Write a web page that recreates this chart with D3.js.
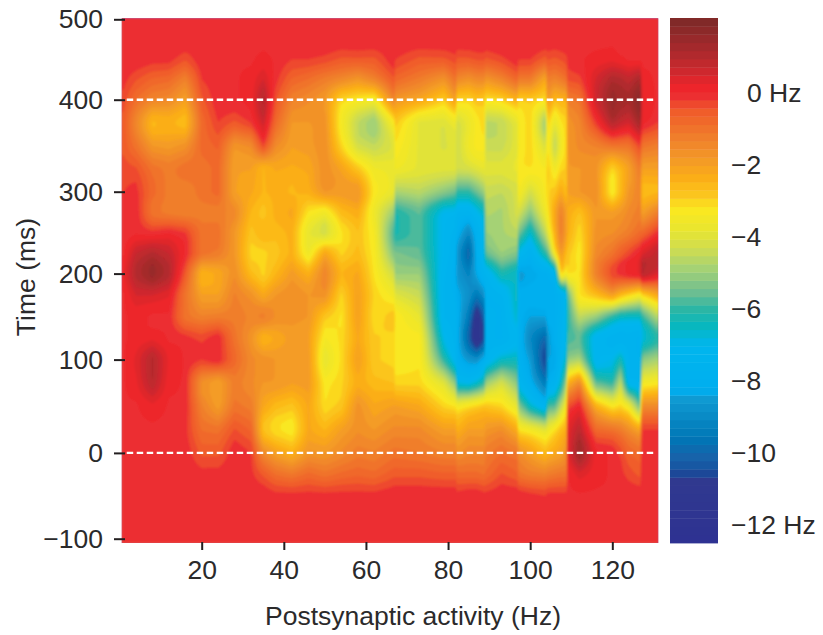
<!DOCTYPE html>
<html><head><meta charset="utf-8">
<script src="https://cdn.jsdelivr.net/npm/d3@7"></script>
<style>
html,body{margin:0;padding:0;background:#fff}
svg{display:block}
text{font-family:"Liberation Sans",Arial,sans-serif;fill:#2b2a2b}
</style></head><body>
<svg id="c" width="823" height="635"></svg>
<script>
const xTicks=[20,40,60,80,100,120];
const yTicks=[-100,0,100,200,300,400,500];
const dashedTimes=[0,400];
const legendLabels=[[0,"0 Hz"],[-2,"−2"],[-4,"−4"],[-6,"−6"],[-8,"−8"],[-10,"−10"],[-12,"−12 Hz"]];
const colorValues=[2.08,1.2,0.45,0.2,-0.1,-0.47,-1.3,-1.86,-2.4,-2.9,-3.2,-3.8,-4.36,-4.9,-5.5,-6,-6.45,-7,-8.25,-8.5,-9.6,-10.2,-10.5,-10.7,-12.5];
const colorStops=["#7b2927","#a8292d","#d8282e","#ed2229","#ec3031","#f05a2a","#f0822b","#f39a26","#fcb016","#fbc91f","#fbe81f","#e9e62f","#cddc52","#a3d176","#72bf90","#2cb6a5","#08b7be","#00b6ee","#00aeef","#0f9ad2","#0076b6","#1b5fa8","#134f9c","#30398f","#2e3192"];
// firing-rate change (Hz), one list per postsynaptic-rate column, from t=-50 to t=475 ms
const timeRows=[-50,-25,0,25,50,75,100,125,150,175,200,225,250,275,300,325,350,375,400,425,450,475];
const rateColumns=[1,4,8,12,16,20,24,28,32,35,38,42,46,50,54,58,62,66.8,67.2,73,79,81.8,82.2,85,87,88.8,89.2,93,96.8,97.2,100,103.8,104.2,106,107.5,108.8,109.2,112,116,120,122,124,126.8,127.2,131];
const heatValues=[
[0,0,0,0,0,0,0,0,0,0,0.2,0,-0.1,-0.1,-0.2,-0.3,-0.5,-0.5,-0.3,-0.1,0,0],
[0,0,0,0,0,0.2,0.3,0.1,0.1,0.5,1.0,0.7,0,0,-0.1,-0.4,-1,-1.4,-0.9,-0.4,0,0],
[0,0,0,0,0.2,0.9,1.0,0.2,0,0.5,1.5,1.0,-0.1,-1.0,-0.8,-1.0,-1.8,-2.5,-1.4,-0.7,-0.1,0],
[0,0,0,0,0,0.1,0.2,0,0,0.3,1.0,0.7,0,-1.2,-1.2,-1.2,-1.9,-2.4,-1.5,-0.8,-0.1,0],
[0,0,0,-0.1,0,0,0,-0.1,-1.0,-1.0,-0.5,0,-0.2,-1.3,-1.3,-1.0,-1.7,-2.6,-2.0,-1.3,-0.4,0],
[0,-0.1,-0.5,-0.9,-1.3,-1.6,-0.2,-0.3,-1.3,-2,-2.4,-1,-1,-1.2,-1,-1,-0.8,-0.8,-0.5,-0.2,0,0],
[0,-0.1,-0.5,-1,-1.9,-2,0,0,-1.2,-2,-2.2,-1.2,-1,-1.2,-0.8,-0.8,-0.6,-0.2,0,0,0,0],
[0,0,0,-0.4,-1,-1.2,-0.8,-1,-1.2,-1.3,-1.6,-1.8,-1.8,-1.5,-2,-2,-1.7,-0.5,0,0,0,0],
[0,-0.1,-0.2,-0.7,-1.2,-1.5,-1.5,-1.7,-1.4,-1.7,-2.6,-3,-2.8,-2.5,-2.2,-2,-1.5,-0.2,0.1,0.1,0,0],
[0,-0.5,-1.5,-2.7,-2.2,-1.8,-1.7,-2.4,-1.3,-2.2,-3,-3,-2.5,-2.8,-2.5,-2.5,-0.3,0.6,1.0,0.5,0.1,0],
[-0.1,-0.9,-2,-3.1,-2.6,-1.8,-1.8,-2.2,-1.6,-1.8,-2.5,-2.8,-2.6,-2.4,-2.4,-2.2,-1.5,-0.8,-0.4,-0.1,0,0],
[-0.1,-1.1,-2.4,-3.3,-2.8,-2,-1.8,-1.9,-1.7,-1.6,-1.9,-2.4,-2.4,-2.2,-2.5,-2.3,-2,-1.8,-1.3,-0.7,-0.2,0],
[-0.1,-0.8,-1.7,-2.2,-2.2,-1.9,-1.9,-2,-1.8,-1.8,-2.4,-3.6,-3.8,-3.2,-2.4,-2.2,-1.9,-1.8,-1.5,-0.9,-0.2,0],
[-0.1,-1,-1.8,-2.5,-3.1,-3.3,-3.8,-3.4,-2.8,-1.7,-1.4,-2.2,-4.2,-3.5,-1.8,-1.6,-1.6,-1.7,-1.8,-1.2,-0.3,0],
[-0.1,-0.8,-1.5,-2,-2.8,-3,-3.1,-3.1,-3.2,-3,-2.5,-3,-3.2,-2.6,-1.9,-2.1,-3,-3.4,-3,-1.5,-0.5,0],
[-0.1,-0.7,-1.2,-1.6,-1.7,-2.3,-2,-2.2,-2,-2,-2.2,-2.6,-2.7,-2.3,-1.8,-2.8,-4.2,-4.5,-3.3,-1.8,-0.5,0],
[-0.1,-0.8,-1.3,-1.8,-2.2,-2.6,-2.9,-2.9,-3.1,-3,-3.2,-3.3,-3.4,-3.6,-3.3,-3.6,-4.5,-5,-3.5,-1.4,-0.5,0],
[0,-0.5,-1,-1.5,-2,-2.7,-3,-3,-2.8,-3.5,-4.3,-5.3,-5.8,-5,-3.8,-3.7,-4,-3.3,-1.4,-0.5,0,0],
[0,-0.5,-1,-1.5,-2,-3,-3.3,-3.3,-3.2,-4,-5,-5.4,-6.2,-6.1,-4.8,-3.6,-3.2,-2.8,-1.8,-0.8,-0.2,0],
[0,-0.5,-1.1,-1.5,-2.2,-3,-3.2,-3.3,-3.8,-4.4,-5,-5.6,-5.7,-5.6,-4.6,-3.9,-3.9,-3.9,-2.2,-1.2,-0.5,0],
[0,-0.6,-1.3,-2,-3,-4,-6,-7,-7.5,-7.5,-7.4,-7.2,-7.2,-7,-5.2,-4,-4.1,-4,-2.9,-1.7,-0.5,0],
[0,-0.6,-1.3,-2,-3.2,-5.2,-7.2,-7.6,-7.6,-7.8,-8,-7.8,-7.6,-7.1,-5.5,-4,-4,-3.6,-2,-1,-0.3,0],
[-0.1,-0.8,-1.6,-2.4,-3.5,-6.8,-8,-8,-8,-8.2,-8.6,-8.6,-8,-7.5,-6,-4.3,-4.3,-4.2,-3,-1.5,-0.5,0],
[0,-0.8,-1.4,-2,-3.2,-7,-8.6,-10,-9.4,-8.8,-9.2,-10,-9,-7.6,-6,-4.2,-3.6,-3.7,-3,-1.7,-0.5,0],
[0,-0.8,-1.4,-2,-3,-6.6,-8.8,-11.7,-11.4,-9.5,-8.3,-8,-7.8,-7,-5.5,-4,-3.3,-3.3,-2.7,-1.5,-0.4,0],
[-0.1,-0.9,-1.4,-2,-2.8,-6,-8,-10.4,-10,-8.8,-7.5,-7,-7,-6.5,-5,-3.8,-3.3,-3,-2.8,-1.5,-0.4,0],
[-0.1,-0.8,-1.2,-1.8,-2.8,-5,-7.4,-7.6,-7.6,-7.8,-7.4,-5.6,-5,-4.7,-4.4,-4,-4.4,-4.6,-3.2,-1.8,-0.5,0],
[0,-0.4,-0.9,-1.6,-3,-4.2,-6.5,-7.8,-7.8,-7.5,-6.2,-5,-4.8,-4.8,-4.5,-4,-4.4,-4.5,-3,-1.4,-0.3,0],
[0,-0.6,-1.1,-2.3,-3.8,-5.2,-6.4,-7.2,-6.6,-6.4,-6.5,-5.3,-4.6,-4.2,-4.2,-3.8,-3.9,-3.8,-2.4,-0.8,0,0],
[0,-1,-1.6,-3.2,-5.2,-7.2,-7.8,-7.8,-8,-8,-8.5,-7,-5.4,-4.2,-3.4,-3.2,-3.4,-3.4,-2.9,-1.2,-0.2,0],
[-0.1,-1.2,-2,-3.5,-6.5,-8,-8.5,-9,-8.4,-8,-8.3,-7.8,-6.6,-5.2,-4.2,-3.2,-3,-3,-2.8,-1.2,-0.2,0],
[-0.2,-1.3,-2.6,-4,-7.5,-9.5,-10.8,-10,-8.4,-8,-8,-6,-4.5,-3.6,-3.3,-3.4,-4.2,-5,-3.2,-2.2,-0.6,0],
[-0.1,-1.2,-2.4,-3.7,-5.8,-8,-8.4,-8.6,-8,-8,-8,-5.8,-4,-3.3,-3,-2.8,-3,-2.8,-1.8,-1.2,-0.4,0],
[-0.1,-1.1,-2.2,-3.2,-5.7,-7.6,-8.3,-8,-8,-8,-7.4,-3.4,-2.4,-2.2,-2.8,-3.6,-4.5,-3.8,-2.6,-1.4,-0.5,0],
[-0.1,-1,-2,-2.7,-4.5,-6.5,-7.3,-7.5,-7.7,-7.8,-3,-1.8,-1.2,-1.3,-2.2,-3,-3.5,-3.2,-2.4,-1.2,-0.4,0],
[-0.1,-1,-1.7,-2.4,-3.5,-5,-6.5,-7,-7,-7,-3.6,-2.6,-2,-2,-2.7,-2.9,-3,-3,-2.4,-1,-0.3,0],
[0,0,0.3,0.3,-0.4,-2.4,-5,-5.8,-6,-5.5,-3.2,-2.8,-2.4,-2.3,-2,-1.8,-1.8,-1.7,-1.2,-0.4,-0.1,0],
[0,0.4,1.4,0.9,0.1,-1.5,-4.7,-5.6,-4.5,-3.2,-3.2,-3.3,-3.1,-2.7,-1.8,-1.8,-1.5,-1.4,-1,-0.3,0,0],
[0,0.1,0.1,-0.8,-2.4,-5.6,-7.3,-7.3,-5,-2.7,-1.3,-1.5,-1.7,-1.8,-1.6,-1.7,-1.3,-0.2,0.6,0.5,0.1,0],
[0,0,0,-1,-3.3,-6,-7,-7.6,-6,-2,-0.3,-1,-1.6,-2,-3.4,-3,-1,1,1.5,1.1,0.2,0],
[0,-0.1,-0.3,-1.2,-3,-4.5,-6.3,-7.6,-6.4,-2.6,-0.1,-0.6,-1.4,-1.8,-2.6,-2.5,-1,0.7,1.3,1,0.1,0],
[0,-0.3,-0.7,-1.6,-3.6,-7.2,-7.5,-7.6,-6.5,-3,0.1,-0.3,-1.2,-1.5,-1.8,-2,-1,0.5,1.2,0.8,0,0],
[0,-0.5,-0.9,-2.2,-5.5,-7.4,-7.7,-7.8,-6.5,-3.5,0.3,0.1,-0.8,-1.2,-1.3,-1.1,-0.2,1.3,1.8,1.2,0,0],
[0,0,0,-0.2,-1.5,-3.5,-5.2,-6.8,-6,-3,1.0,0.4,-0.8,-2,-2.6,-2,-1,0.1,0.2,0.1,0,0],
[0,0,0,-0.2,-1.5,-3.3,-4.8,-6,-4.6,-2.2,0.4,0.8,-0.1,-1.3,-2.5,-2,-1.2,-0.2,0,0,0,0]
];
const axisTimes=[-100,...timeRows,500];
const fullColumns=heatValues.map(c=>[0,...c,0]);

const L=121.7,R=658.3,T=18.3,B=543;
const x=d3.scaleLinear().domain([0.52,131.2]).range([L,R]);
const y=d3.scaleLinear().domain([-104.5,-100,0,100,200,300,400,500,501.5]).range([B,538.7,452.9,359.6,273.6,191.7,99.7,19.3,T]);
const cbY=d3.scaleLinear().domain([2.08,-12.5]).range([18,543]);
const color=d3.scaleLinear().domain(colorValues).range(colorStops).clamp(true);

const BANDS=64,vTop=2.08,vBot=-12.5,step=(vTop-vBot)/BANDS;
const svg=d3.select("#c");
const FS=26.5;

// sampling of the column table, used only to rasterise the contours
function sampleAt(hz,t){
  const cols=rateColumns;
  let i=d3.bisectRight(cols,hz)-1; i=Math.max(0,Math.min(cols.length-2,i));
  const f=Math.max(0,Math.min(1,(hz-cols[i])/(cols[i+1]-cols[i])));
  let j=d3.bisectRight(axisTimes,t)-1; j=Math.max(0,Math.min(axisTimes.length-2,j));
  const u=Math.max(0,Math.min(1,(t-axisTimes[j])/(axisTimes[j+1]-axisTimes[j])));
  const cr=c=>{
    const p0=c[Math.max(0,j-1)],p1=c[j],p2=c[j+1],p3=c[Math.min(c.length-1,j+2)];
    const v=0.5*((2*p1)+(-p0+p2)*u+(2*p0-5*p1+4*p2-p3)*u*u+(-p0+3*p1-3*p2+p3)*u*u*u);
    return Math.max(Math.min(p1,p2),Math.min(Math.max(p1,p2),v));
  };
  return cr(fullColumns[i])*(1-f)+cr(fullColumns[i+1])*f;
}
const cell=1.5,nx=Math.ceil((R-L)/cell),ny=Math.ceil((B-T)/cell);
const grid=new Float64Array(nx*ny);
for(let r=0;r<ny;r++){
  const t=y.invert(T+(r+0.5)*cell);
  for(let c=0;c<nx;c++) grid[r*nx+c]=sampleAt(x.invert(L+(c+0.5)*cell),t);
}
const thresholds=d3.range(1,BANDS).map(k=>vBot+k*step);
const contours=d3.contours().size([nx,ny]).smooth(true).thresholds(thresholds)(grid);
const path=d3.geoPath(d3.geoTransform({point(a,b){this.stream.point(L+a*cell,T+b*cell);}}));

const defs=svg.append("defs");
defs.append("clipPath").attr("id","p").append("rect").attr("x",L).attr("y",T).attr("width",R-L).attr("height",B-T);
defs.append("filter").attr("id","soft").attr("filterUnits","userSpaceOnUse")
  .attr("x",L-10).attr("y",T-10).attr("width",R-L+20).attr("height",B-T+20)
  .append("feGaussianBlur").attr("stdDeviation",1.2);
const plot=svg.append("g").attr("clip-path","url(#p)");
plot.append("rect").attr("x",L).attr("y",T).attr("width",R-L).attr("height",B-T).attr("fill",color(0));
const inner=plot.append("g").attr("filter","url(#soft)");
inner.append("rect").attr("x",L-10).attr("y",T-10).attr("width",R-L+20).attr("height",B-T+20).attr("fill",color(vBot+step/2));
inner.selectAll("path").data(contours).join("path")
  .attr("d",path).attr("fill",d=>color(d.value+step/2));

// colour bar
const bands=d3.range(BANDS).map(k=>vBot+k*step);
svg.append("g").selectAll("rect").data(bands).join("rect")
  .attr("x",670).attr("width",48)
  .attr("y",d=>cbY(d+step)).attr("height",d=>cbY(d)-cbY(d+step)+0.4)
  .attr("fill",d=>color(d+step/2));
svg.append("g").selectAll("text").data(legendLabels).join("text")
  .attr("x",d=>d[0]===0?747:731).attr("y",d=>cbY(d[0])+9.5)
  .attr("font-size",FS).text(d=>d[1]);

// dashed markers
svg.append("g").selectAll("line").data(dashedTimes).join("line")
  .attr("x1",L+5).attr("x2",R-2).attr("y1",d=>y(d)).attr("y2",d=>y(d))
  .attr("stroke","#fff").attr("stroke-width",2.4).attr("stroke-dasharray","6.5,3.5");

// axes
const gy=svg.append("g").attr("transform","translate(125,0)")
  .call(d3.axisLeft(y).tickValues(yTicks).tickSize(11).tickPadding(11).tickFormat(d3.format("d")));
const gx=svg.append("g").attr("transform","translate(0,542)")
  .call(d3.axisBottom(x).tickValues(xTicks).tickSize(8).tickPadding(10).tickFormat(d3.format("d")));
[gy,gx].forEach(g=>{
  g.select(".domain").remove();
  g.selectAll("line").attr("stroke","#231f20").attr("stroke-width",2);
  g.selectAll("text").attr("font-size",FS).attr("font-family","Liberation Sans").attr("fill","#2b2a2b");
});
svg.append("text").attr("x",413).attr("y",625).attr("text-anchor","middle").attr("font-size",FS).text("Postsynaptic activity (Hz)");
svg.append("text").attr("transform","translate(34.5,277) rotate(-90)").attr("text-anchor","middle").attr("font-size",FS).text("Time (ms)");
</script>
</body></html>
